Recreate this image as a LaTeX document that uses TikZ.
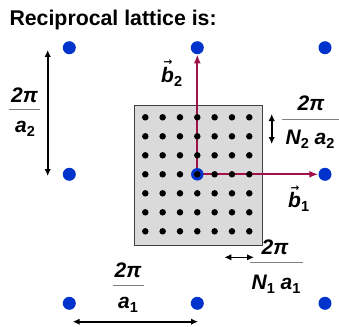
\documentclass[tikz,border=0pt]{standalone}
\usepackage{fontspec}
\setmainfont{Liberation Sans}
\newfontfamily\arrowfont{DejaVu Sans}
\usetikzlibrary{arrows.meta}
\definecolor{dotblue}{RGB}{0,51,204}
\definecolor{vecred}{RGB}{160,16,72}
\definecolor{boxgray}{RGB}{218,218,218}
\definecolor{fracgray}{RGB}{128,128,128}
\newcommand{\mysub}[1]{\raisebox{-4pt}{\fontsize{14.5}{14.5}\selectfont #1}}
\newcommand{\myvec}[1]{\makebox[0pt][l]{\hspace{2.5pt}\raisebox{16.5pt}{\fontsize{10.5}{10.5}\selectfont\arrowfont →}}{\itshape b}\mysub{#1}}
\tikzset{
  bdot/.style={circle,fill=dotblue,inner sep=0pt,minimum size=13pt},
  sdot/.style={circle,fill=black,inner sep=0pt,minimum size=6.5pt},
  zonebox/.style={draw=black!75,line width=1pt,fill=boxgray,inner sep=0pt},
  redarr/.style={draw=vecred,line width=2pt,-{Latex[length=9pt,width=7pt]}},
  dblarr/.style={draw=black,line width=1.6pt,{Latex[length=7pt,width=6.5pt]}-{Latex[length=7pt,width=6.5pt]}},
  fracline/.style={draw=fracgray,line width=0.9pt},
  lab/.style={font=\fontsize{21}{23}\selectfont\bfseries,inner sep=0pt,anchor=base},
}
\begin{document}
\begin{tikzpicture}[x=1pt,y=-1pt]
\useasboundingbox (0,0) rectangle (339,326);
% title
\node[font=\fontsize{21.3}{24}\selectfont\bfseries,inner sep=0pt,anchor=base west] (title) at (9.3,26) {Reciprocal lattice is:};
% zone box
\node[zonebox,minimum width=128pt,minimum height=140.7pt] (box) at (198.3,175.35) {};
% outer blue dots
\node[bdot] (B00) at (69.3,47.7) {};
\node[bdot] (B10) at (197.3,47.7) {};
\node[bdot] (B20) at (325,47.7) {};
\node[bdot] (B01) at (69.3,174.3) {};
\node[bdot] (B21) at (325,174.3) {};
\node[bdot] (B02) at (69.3,303.3) {};
\node[bdot] (B12) at (197.3,303.3) {};
\node[bdot] (B22) at (325,303.3) {};
% red vectors
\coordinate (o) at (197.3,174.3);
\draw[redarr] (o) -- (B10.south);
\draw[redarr] (o) -- (B21.west);
% small dots
\foreach \i in {-3,...,3}{
  \foreach \j in {-3,...,3}{
    \node[sdot] (s\i\j) at ({197.3+17.33*\i},{174.3+19*\j}) {};
  }
}
\node[bdot,minimum size=12.5pt] (B11) at (197.3,174.3) {};
\node[sdot] (c0) at (B11.center) {};
% vector labels
\node[lab,anchor=base west] (lb2) at (161,82) {\myvec{2}};
\node[lab,anchor=base west] (lb1) at (288,207.5) {\myvec{1}};
% left 2pi/a2
\coordinate (la1) at (47.7,50);
\coordinate (la2) at (47.7,176);
\draw[dblarr] (la1) -- (la2);
\node[lab] (n1) at (24.5,102) {\itshape 2π};
\coordinate (f1a) at (9.3,109);
\coordinate (f1b) at (40,109);
\draw[fracline] (f1a) -- (f1b);
\node[lab] (d1) at (25,132.5) {{\itshape a}\mysub{2}};
% bottom 2pi/a1
\coordinate (ba1) at (72.7,321.7);
\coordinate (ba2) at (198,321.7);
\draw[dblarr] (ba1) -- (ba2);
\node[lab] (n2) at (128,277.5) {\itshape 2π};
\coordinate (f2a) at (113,285.5);
\coordinate (f2b) at (144,285.5);
\draw[fracline] (f2a) -- (f2b);
\node[lab] (d2) at (128,308.5) {{\itshape a}\mysub{1}};
% small vertical 2pi/(N2 a2)
\coordinate (va1) at (271.7,114);
\coordinate (va2) at (271.7,144);
\draw[dblarr] (va1) -- (va2);
\node[lab] (n3) at (311,110.5) {\itshape 2π};
\coordinate (f3a) at (281.7,119.3);
\coordinate (f3b) at (339,119.3);
\draw[fracline] (f3a) -- (f3b);
\node[lab] (d3) at (310,144.5) {{\itshape N}\mysub{2} {\itshape a}\mysub{2}};
% small horizontal 2pi/(N1 a1)
\coordinate (ha1) at (224.3,257.3);
\coordinate (ha2) at (254,257.3);
\draw[dblarr] (ha1) -- (ha2);
\node[lab] (n4) at (275,254.5) {\itshape 2π};
\coordinate (f4a) at (250,262.7);
\coordinate (f4b) at (303,262.7);
\draw[fracline] (f4a) -- (f4b);
\node[lab] (d4) at (276,289) {{\itshape N}\mysub{1} {\itshape a}\mysub{1}};
\end{tikzpicture}
\end{document}
